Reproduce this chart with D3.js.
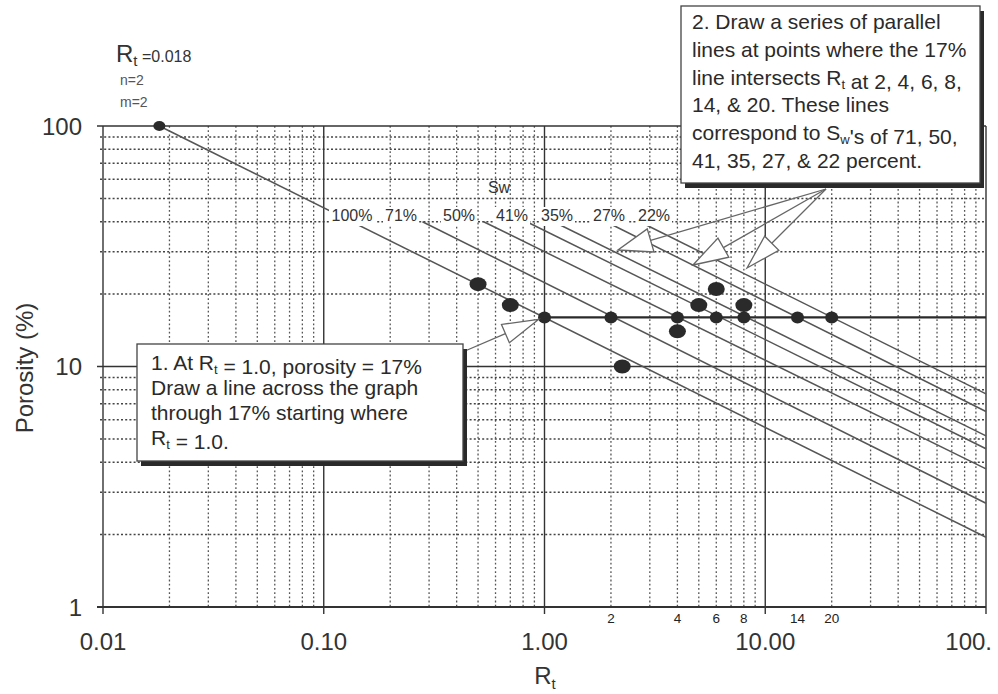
<!DOCTYPE html>
<html>
<head>
<meta charset="utf-8">
<script src="https://cdn.jsdelivr.net/npm/d3@7"></script>
<style>
  body { margin: 0; background: #fff; }
  svg { display: block; font-family: "Liberation Sans", Arial, sans-serif; }
</style>
</head>
<body>
<svg id="chart" width="998" height="694"></svg>
<script>
// Sw lines: label, Rt where each one meets the porosity line, start point, porosity at Rt = 100
const swLabels = ["100%", "71%", "50%", "41%", "35%", "27%", "22%"];
const rtCross = [1, 2, 4, 6, 8, 14, 20];
const startRt = [0.018, 0.28, 0.53, 0.83, 1.1, 1.9, 2.7];
const startPhi = [100, 40, 40, 40, 40, 40, 40];
const endPhi = [1.95, 2.7, 3.75, 4.55, 5.15, 6.5, 7.7];
const endRt = 100;
const porosityLine = 16;
const rwPoint = [0.018, 100];

// measured points
const measuredRt = [0.5, 0.7, 2.25, 4, 5, 6, 8];
const measuredPhi = [22, 18, 10, 14, 18, 21, 18];

const xTicks = [0.01, 0.1, 1, 10, 100];
const xTickLabels = ["0.01", "0.10", "1.00", "10.00", "100."];
const yTicks = [1, 10, 100];
const yTickLabels = ["1", "10", "100"];

const svg = d3.select("#chart");
const area = { left: 103, right: 986, top: 126, bottom: 607 };

const x = d3.scaleLog().domain([0.01, 100]).range([area.left, area.right]);
const y = d3.scaleLog().domain([1, 100]).range([area.bottom, area.top]);

// minor values inside each decade
function minors(lo, hi) {
  let out = [];
  for (let d = lo; d < hi * 0.999; d *= 10)
    for (let k = 2; k <= 9; k++) out.push(d * k);
  return out;
}

const grid = svg.append("g");
grid.selectAll(".vminor")
  .data(minors(0.01, 100))
  .enter().append("line")
  .attr("x1", d => x(d)).attr("x2", d => x(d))
  .attr("y1", area.top).attr("y2", area.bottom)
  .style("stroke", "#555").style("stroke-width", 1.3)
  .style("stroke-dasharray", "1.8,2.4");
grid.selectAll(".hminor")
  .data(minors(1, 100))
  .enter().append("line")
  .attr("x1", area.left - 3).attr("x2", area.right)
  .attr("y1", d => y(d)).attr("y2", d => y(d))
  .style("stroke", "#444").style("stroke-width", 1.5)
  .style("stroke-dasharray", "2,2.2");
grid.selectAll(".vmajor")
  .data(xTicks)
  .enter().append("line")
  .attr("x1", d => x(d)).attr("x2", d => x(d))
  .attr("y1", area.top).attr("y2", area.bottom + 7)
  .style("stroke", "#333").style("stroke-width", 1.4);
grid.selectAll(".hmajor")
  .data(yTicks)
  .enter().append("line")
  .attr("x1", area.left - 6).attr("x2", area.right)
  .attr("y1", d => y(d)).attr("y2", d => y(d))
  .style("stroke", "#333").style("stroke-width", d => d === 1 ? 2.2 : 1.4);

// axis labels
svg.selectAll(".ylab")
  .data(yTicks)
  .enter().append("text")
  .attr("x", 82).attr("y", d => y(d) + 8.5)
  .attr("text-anchor", "end")
  .style("font-size", "24px").style("fill", "#333")
  .text((d, i) => yTickLabels[i]);

svg.selectAll(".xlab")
  .data(xTicks)
  .enter().append("text")
  .attr("x", (d, i) => i === xTicks.length - 1 ? 992 : x(d))
  .attr("y", 650)
  .attr("text-anchor", (d, i) => i === xTicks.length - 1 ? "end" : "middle")
  .style("font-size", "24px").style("fill", "#333")
  .text((d, i) => xTickLabels[i]);

// small Rt labels under the axis
svg.selectAll(".rtlab")
  .data(rtCross.slice(1))
  .enter().append("text")
  .attr("x", d => x(d)).attr("y", 623)
  .attr("text-anchor", "middle")
  .style("font-size", "13.5px").style("fill", "#222")
  .text(d => d);

svg.append("text")
  .attr("transform", "translate(33,368) rotate(-90)")
  .attr("text-anchor", "middle")
  .style("font-size", "24px").style("fill", "#333")
  .text("Porosity (%)");

const xTitle = svg.append("text")
  .attr("x", 545).attr("y", 684)
  .attr("text-anchor", "middle")
  .style("font-size", "24px").style("fill", "#333");
xTitle.append("tspan").text("R");
xTitle.append("tspan").attr("dy", 5).style("font-size", "15px").text("t");

// Sw lines
const line = d3.line().x(d => x(d[0])).y(d => y(d[1]));
const swLines = swLabels.map((lab, i) => [[startRt[i], startPhi[i]], [endRt, endPhi[i]]]);
svg.selectAll(".swline")
  .data(swLines)
  .enter().append("path")
  .attr("d", line)
  .style("fill", "none").style("stroke", "#555").style("stroke-width", 1.5);

// 16% porosity line
svg.append("path")
  .attr("d", line([[1, porosityLine], [endRt, porosityLine]]))
  .style("fill", "none").style("stroke", "#2a2a2a").style("stroke-width", 2.2);

// Sw labels with white backing
const swLabelCx = [352, 401, 459, 512, 557, 609, 654];
const labG = svg.append("g");
labG.selectAll("rect")
  .data(swLabels)
  .enter().append("rect")
  .attr("x", (d, i) => swLabelCx[i] - d.length * 5 - 3)
  .attr("y", 207)
  .attr("width", d => d.length * 10 + 6)
  .attr("height", 19)
  .style("fill", "#fff");
labG.selectAll("text")
  .data(swLabels)
  .enter().append("text")
  .attr("x", (d, i) => swLabelCx[i]).attr("y", 221)
  .attr("text-anchor", "middle")
  .style("font-size", "16px").style("fill", "#333")
  .text(d => d);
svg.append("text")
  .attr("x", 499).attr("y", 193)
  .attr("text-anchor", "middle")
  .style("font-size", "16px").style("fill", "#333")
  .text("Sw");

// dots
svg.selectAll(".cross")
  .data(rtCross)
  .enter().append("ellipse")
  .attr("cx", d => x(d)).attr("cy", y(porosityLine))
  .attr("rx", 6.5).attr("ry", 6)
  .style("fill", "#2a2a2a");
svg.selectAll(".meas")
  .data(measuredRt)
  .enter().append("ellipse")
  .attr("cx", d => x(d)).attr("cy", (d, i) => y(measuredPhi[i]))
  .attr("rx", 8.5).attr("ry", 7)
  .style("fill", "#2a2a2a");
svg.append("ellipse")
  .attr("cx", x(rwPoint[0])).attr("cy", y(rwPoint[1]))
  .attr("rx", 6).attr("ry", 5)
  .style("fill", "#2a2a2a");

// Rw note
const rw = svg.append("text").attr("x", 116).attr("y", 62).style("fill", "#333");
rw.append("tspan").style("font-size", "24px").text("R");
rw.append("tspan").attr("dy", 4).style("font-size", "15px").text("t");
rw.append("tspan").attr("dy", -4).style("font-size", "16px").text(" =0.018");
svg.append("text").attr("x", 120).attr("y", 85)
  .style("font-size", "14px").style("fill", "#555").text("n=2");
svg.append("text").attr("x", 120).attr("y", 107)
  .style("font-size", "14px").style("fill", "#555").text("m=2");

// hollow arrows
function hollowArrow(from, tip, len, halfW) {
  const dx = from[0] - tip[0], dy = from[1] - tip[1];
  const l = Math.hypot(dx, dy);
  const ux = dx / l, uy = dy / l;
  const base = [tip[0] + ux * len, tip[1] + uy * len];
  const p1 = [base[0] - uy * halfW, base[1] + ux * halfW];
  const p2 = [base[0] + uy * halfW, base[1] - ux * halfW];
  svg.append("line")
    .attr("x1", from[0]).attr("y1", from[1])
    .attr("x2", base[0]).attr("y2", base[1])
    .style("stroke", "#666").style("stroke-width", 1.3);
  svg.append("polygon")
    .attr("points", [tip, p1, p2].map(p => p.join(",")).join(" "))
    .style("fill", "#fff").style("stroke", "#666").style("stroke-width", 1.3);
}

hollowArrow([465, 351], [x(1) - 6, y(porosityLine) + 2], 36, 10);
const src = [826, 189];
hollowArrow(src, [618, 250], 34, 12);
hollowArrow(src, [693, 265], 35, 11);
hollowArrow(src, [747, 268], 35, 10);

// text boxes
function textBox(bx, by, bw, bh, tx, ty0, lh, lines) {
  svg.append("rect")
    .attr("x", bx + 4).attr("y", by + 5).attr("width", bw).attr("height", bh)
    .style("fill", "#2a2a2a");
  svg.append("rect")
    .attr("x", bx).attr("y", by).attr("width", bw).attr("height", bh)
    .style("fill", "#fff").style("stroke", "#444").style("stroke-width", 1.3);
  lines.forEach((segs, i) => {
    const t = svg.append("text")
      .attr("x", tx).attr("y", ty0 + i * lh)
      .style("font-size", "21px").style("fill", "#2a2a2a");
    segs.forEach(s => {
      if (typeof s === "string") t.append("tspan").text(s);
      else {
        t.append("tspan").attr("dy", 4).style("font-size", "13px").text(s.sub);
        t.append("tspan").attr("dy", -4).text("");
      }
    });
  });
}

textBox(137, 344, 326, 117, 151, 370, 25, [
  ["1. At R", { sub: "t" }, " = 1.0, porosity = 17%"],
  ["Draw a line across the graph"],
  ["through 17% starting where"],
  ["R", { sub: "t" }, " = 1.0."]
]);

textBox(681, 6, 299, 177, 692, 29, 27.8, [
  ["2. Draw a series of parallel"],
  ["lines at points where the 17%"],
  ["line intersects R", { sub: "t" }, " at 2, 4, 6, 8,"],
  ["14, & 20. These lines"],
  ["correspond to S", { sub: "w" }, "'s of 71, 50,"],
  ["41, 35, 27, & 22 percent."]
]);
</script>
</body>
</html>
